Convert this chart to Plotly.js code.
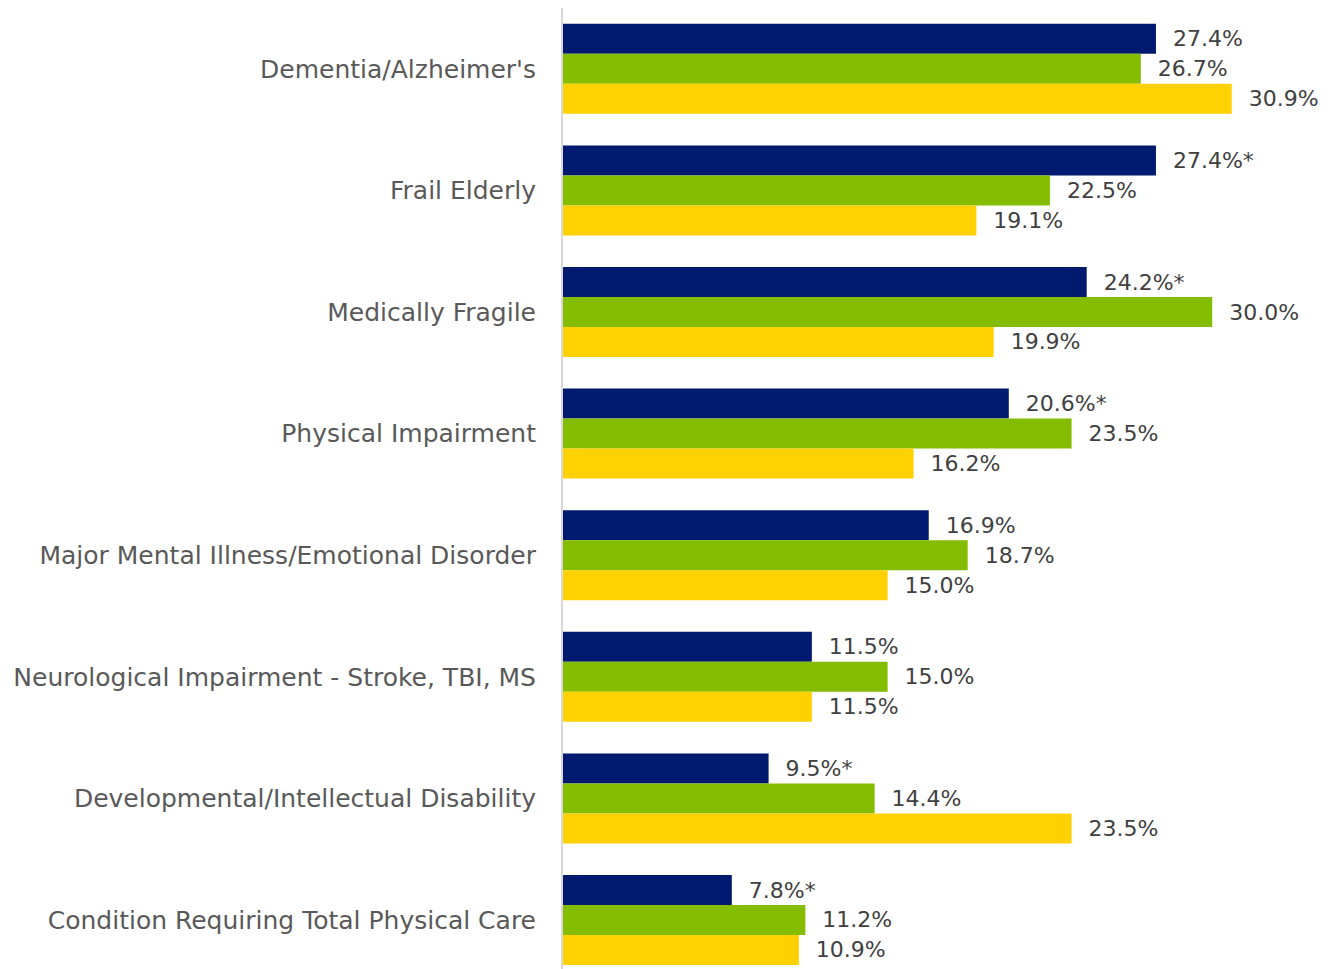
<!DOCTYPE html>
<html>
<head>
<meta charset="utf-8">
<script src="https://cdn.plot.ly/plotly-3.0.1.min.js"></script>
<style>html,body{margin:0;padding:0;background:#fff;}#chart{width:1328px;height:969px;}</style>
</head>
<body>
<div id="chart"></div>
<script>
const categories = [
  "Dementia/Alzheimer's",
  "Frail Elderly",
  "Medically Fragile",
  "Physical Impairment",
  "Major Mental Illness/Emotional Disorder",
  "Neurological Impairment - Stroke, TBI, MS",
  "Developmental/Intellectual Disability",
  "Condition Requiring Total Physical Care"
];
const series1 = [27.4, 27.4, 24.2, 20.6, 16.9, 11.5, 9.5, 7.8];
const series1Flag = ["", "*", "*", "*", "", "", "*", "*"];
const series2 = [26.7, 22.5, 30.0, 23.5, 18.7, 15.0, 14.4, 11.2];
const series3 = [30.9, 19.1, 19.9, 16.2, 15.0, 11.5, 23.5, 10.9];

const colors = ["#001A70", "#84BD00", "#FFD100"];
const pad = "\u00a0\u00a0";

function mk(vals, flags, color, name) {
  return {
    type: "bar", orientation: "h", name: name,
    y: categories, x: vals,
    text: vals.map((v, i) => pad + v.toFixed(1) + "%" + (flags ? flags[i] : "")),
    textposition: "outside", constraintext: "none", cliponaxis: false,
    textfont: {family: "DejaVu Sans", size: 22, color: "#404040"},
    marker: {color: color, line: {width: 0}},
    hoverinfo: "x+y"
  };
}

const data = [
  mk(series1, series1Flag, colors[0], "Series 1"),
  mk(series2, null, colors[1], "Series 2"),
  mk(series3, null, colors[2], "Series 3")
];

const layout = {
  width: 1328, height: 969,
  margin: {l: 563, r: 0, t: 8, b: 0},
  barmode: "group", bargap: 0.26, bargroupgap: 0,
  showlegend: false,
  paper_bgcolor: "#fff", plot_bgcolor: "#fff",
  font: {family: "DejaVu Sans", size: 22, color: "#595959"},
  xaxis: {range: [0, 35.35], showgrid: false, zeroline: false, showticklabels: false, ticks: "", showline: false, fixedrange: true},
  yaxis: {
    type: "category", range: [7.403, -0.5], showgrid: false, zeroline: false,
    showline: true, linecolor: "#d9d9d9", linewidth: 2, ticks: "",
    ticklabelstandoff: 20,
    tickfont: {family: "DejaVu Sans", size: 25, color: "#595959"}
  }
};

Plotly.newPlot("chart", data, layout, {displayModeBar: false, staticPlot: true});
</script>
</body>
</html>
